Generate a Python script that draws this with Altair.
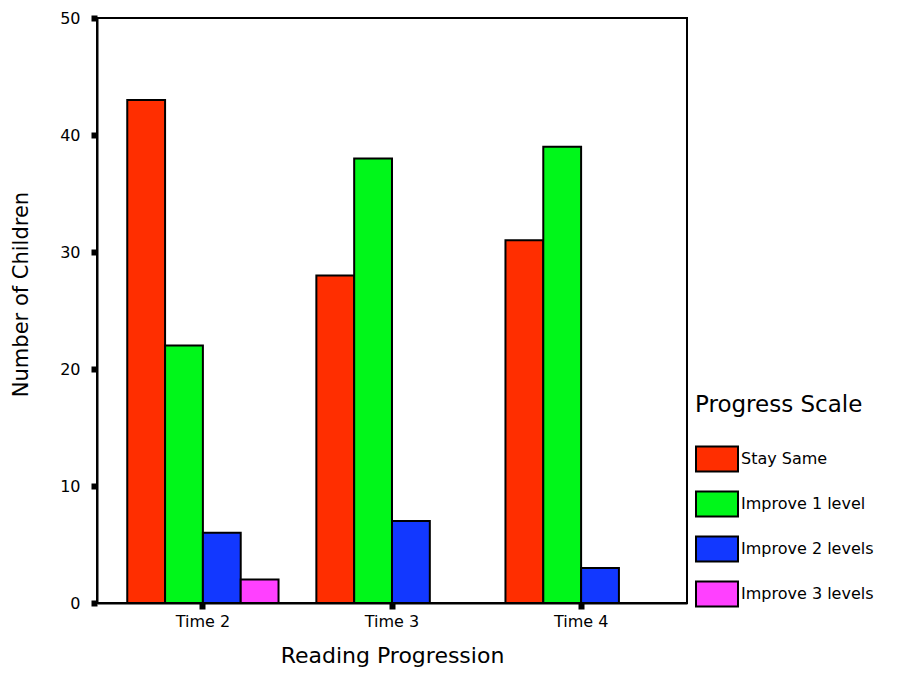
import altair as alt
import pandas as pd

times = ["Time 2", "Time 3", "Time 4"]
series = ["Stay Same", "Improve 1 level", "Improve 2 levels", "Improve 3 levels"]
stay_same = [43, 28, 31]
improve_1 = [22, 38, 39]
improve_2 = [6, 7, 3]
improve_3 = [2, 0, 0]
colors = ["#FF2E00", "#00F71A", "#1238FF", "#FF40FF"]

rows = []
for vals, s in zip([stay_same, improve_1, improve_2, improve_3], series):
    for t, v in zip(times, vals):
        rows.append({"Time": t, "Series": s, "Count": v})
df = pd.DataFrame(rows)

FONT = "DejaVu Sans"

chart = alt.Chart(df).mark_bar(stroke="black", strokeWidth=2).encode(
    x=alt.X("Time:N", sort=times,
            scale=alt.Scale(paddingInner=0.2, paddingOuter=0.16),
            axis=alt.Axis(title="Reading Progression", labelAngle=0,
                          labelFontSize=16, titleFontSize=22, titleFontWeight="normal",
                          labelPadding=4, titlePadding=16, tickSize=6, tickWidth=6,
                          tickColor="black", domainColor="black", domainWidth=2,
                          labelColor="black", titleColor="black",
                          labelFont=FONT, titleFont=FONT)),
    xOffset=alt.XOffset("Series:N", sort=series),
    y=alt.Y("Count:Q", scale=alt.Scale(domain=[0, 50]),
            axis=alt.Axis(title="Number of Children", values=[0, 10, 20, 30, 40, 50],
                          labelFontSize=16, titleFontSize=21, titleFontWeight="normal",
                          labelPadding=11, titlePadding=28, titleY=276,
                          tickSize=6, tickWidth=6,
                          tickColor="black", domainColor="black", domainWidth=2,
                          labelColor="black", titleColor="black", grid=False,
                          labelFont=FONT, titleFont=FONT)),
    color=alt.Color("Series:N", sort=series,
                    scale=alt.Scale(domain=series, range=colors),
                    legend=alt.Legend(title="Progress Scale", orient="none",
                                      legendX=598, legendY=376,
                                      titleFontSize=23, titleFontWeight="normal",
                                      titleFont=FONT, labelFont=FONT, labelFontSize=16,
                                      titleColor="black", labelColor="black",
                                      symbolType="M-1,-0.6H1V0.6H-1Z", symbolSize=1764,
                                      symbolStrokeColor="black", symbolStrokeWidth=2,
                                      symbolOpacity=1,
                                      rowPadding=6, labelOffset=2, titlePadding=20)),
).properties(
    width=590, height=585,
    autosize=alt.AutoSizeParams(type="none"),
    padding={"left": 89, "top": 10, "right": 205, "bottom": 78},
).configure_view(stroke="black", strokeWidth=2)

chart.save("out.html", embed_options={"renderer": "svg", "actions": False})
